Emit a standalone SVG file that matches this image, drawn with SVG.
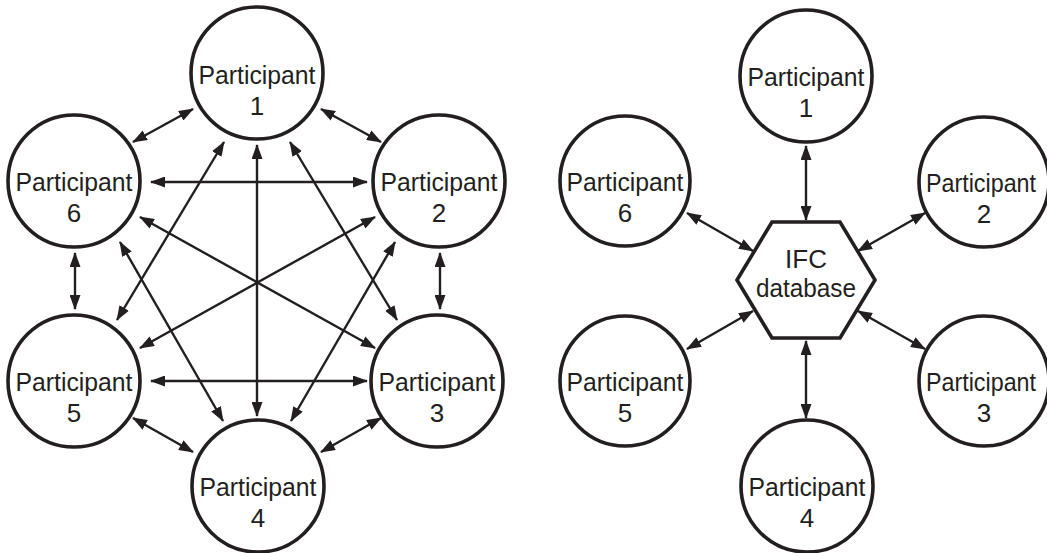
<svg xmlns="http://www.w3.org/2000/svg" width="1047" height="553" viewBox="0 0 1047 553">
<defs>
<marker id="ah" markerUnits="userSpaceOnUse" markerWidth="15" markerHeight="11" viewBox="0 0 15 11" refX="14" refY="5.5" orient="auto-start-reverse">
<path d="M0,0 L15,5.5 L0,11 Z" fill="#231f20"/>
</marker>
</defs>
<style>
.node circle{fill:#fff;stroke:#231f20;stroke-width:3.6}
.node polygon{fill:#fff;stroke:#231f20;stroke-width:3.6;stroke-linejoin:miter}
text{font-family:"Liberation Sans",Arial,sans-serif;font-size:26px;fill:#231f20;text-anchor:middle}
.conn line{stroke:#231f20;stroke-width:2.4;marker-start:url(#ah);marker-end:url(#ah)}
</style>
<rect width="1047" height="553" fill="#fff"/>
<g class="conn" id="connectors">
<line x1="193" y1="109" x2="133" y2="142"/>
<line x1="321" y1="109" x2="381" y2="142"/>
<line x1="151" y1="182" x2="367" y2="182"/>
<line x1="75" y1="253" x2="75" y2="309"/>
<line x1="440" y1="253" x2="440" y2="309"/>
<line x1="151" y1="381" x2="367" y2="381"/>
<line x1="133" y1="418" x2="193" y2="452"/>
<line x1="381" y1="418" x2="321" y2="452"/>
<line x1="257" y1="145" x2="257" y2="416"/>
<line x1="224" y1="142" x2="117" y2="320"/>
<line x1="290" y1="142" x2="397" y2="320"/>
<line x1="120" y1="242" x2="223" y2="421"/>
<line x1="395" y1="242" x2="291" y2="421"/>
<line x1="140" y1="217" x2="375" y2="348"/>
<line x1="375" y1="217" x2="140" y2="348"/>
<line x1="806" y1="146" x2="806" y2="220"/>
<line x1="806" y1="341" x2="806" y2="418"/>
<line x1="687" y1="213" x2="753" y2="251"/>
<line x1="925" y1="213" x2="858" y2="251"/>
<line x1="687" y1="349" x2="753" y2="311"/>
<line x1="925" y1="349" x2="858" y2="311"/>
</g>
<g class="node" id="L-P1"><circle cx="257" cy="73" r="66"/><text x="257" y="84" textLength="117" lengthAdjust="spacingAndGlyphs">Participant</text><text x="257" y="115">1</text></g>
<g class="node" id="L-P2"><circle cx="439" cy="181" r="66"/><text x="439" y="191" textLength="117" lengthAdjust="spacingAndGlyphs">Participant</text><text x="439" y="222">2</text></g>
<g class="node" id="L-P3"><circle cx="437" cy="381" r="66"/><text x="437" y="391" textLength="117" lengthAdjust="spacingAndGlyphs">Participant</text><text x="437" y="422">3</text></g>
<g class="node" id="L-P4"><circle cx="258" cy="486" r="66"/><text x="258" y="496" textLength="117" lengthAdjust="spacingAndGlyphs">Participant</text><text x="258" y="527">4</text></g>
<g class="node" id="L-P5"><circle cx="74" cy="381" r="66"/><text x="74" y="391" textLength="117" lengthAdjust="spacingAndGlyphs">Participant</text><text x="74" y="422">5</text></g>
<g class="node" id="L-P6"><circle cx="74" cy="181" r="66"/><text x="74" y="191" textLength="117" lengthAdjust="spacingAndGlyphs">Participant</text><text x="74" y="222">6</text></g>
<g class="node" id="R-IFC"><polygon points="772,222 840,222 875,280 840,338 772,338 737,280"/><text x="806" y="268">IFC</text><text x="806" y="297" textLength="100" lengthAdjust="spacingAndGlyphs">database</text></g>
<g class="node" id="R-P1"><circle cx="806" cy="76" r="66"/><text x="806" y="86" textLength="117" lengthAdjust="spacingAndGlyphs">Participant</text><text x="806" y="117">1</text></g>
<g class="node" id="R-P2"><circle cx="984" cy="182" r="65"/><text x="981" y="192" textLength="110" lengthAdjust="spacingAndGlyphs">Participant</text><text x="984" y="223">2</text></g>
<g class="node" id="R-P3"><circle cx="984" cy="381" r="65"/><text x="981" y="391" textLength="110" lengthAdjust="spacingAndGlyphs">Participant</text><text x="984" y="422">3</text></g>
<g class="node" id="R-P4"><circle cx="807" cy="486" r="66"/><text x="807" y="496" textLength="117" lengthAdjust="spacingAndGlyphs">Participant</text><text x="807" y="527">4</text></g>
<g class="node" id="R-P5"><circle cx="625" cy="381" r="65"/><text x="625" y="391" textLength="117" lengthAdjust="spacingAndGlyphs">Participant</text><text x="625" y="422">5</text></g>
<g class="node" id="R-P6"><circle cx="625" cy="181" r="65"/><text x="625" y="191" textLength="117" lengthAdjust="spacingAndGlyphs">Participant</text><text x="625" y="222">6</text></g>
</svg>
